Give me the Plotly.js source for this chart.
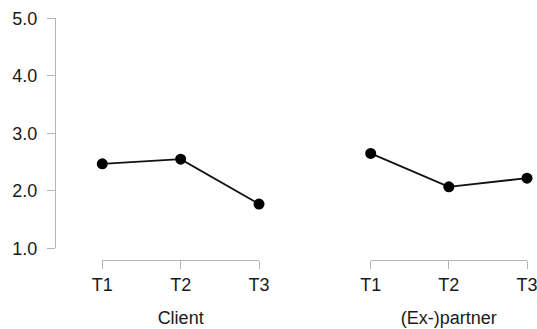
<!DOCTYPE html>
<html>
<head>
<meta charset="utf-8">
<script src="https://cdn.plot.ly/plotly-3.0.1.min.js"></script>
<style>html,body{margin:0;padding:0;background:#fff;}#chart{width:537px;height:329px;}</style>
</head>
<body>
<div id="chart"></div>
<script>
var timePoints = [1, 2, 3];
var timeLabels = ["T1", "T2", "T3"];
var clientValues = [2.47, 2.55, 1.77];
var partnerValues = [2.65, 2.07, 2.22];
var yTickVals = [1, 2, 3, 4, 5];
var yTickText = ["1.0", "2.0", "3.0", "4.0", "5.0"];
var groupNames = ["Client", "(Ex-)partner"];

var W = 537, H = 329;
var fontFam = "Liberation Sans, Arial, Helvetica, sans-serif";
var axisGray = "#b5b5b5";
var textCol = "#1a1a1a";

function trace(vals, xa) {
  return {
    x: timePoints, y: vals, xaxis: xa, yaxis: "y",
    type: "scatter", mode: "lines+markers",
    line: {color: "#111111", width: 1.8},
    marker: {color: "#000000", size: 11},
    cliponaxis: false, hoverinfo: "skip", showlegend: false
  };
}

function xAxis(d0, d1, title) {
  return {
    domain: [d0 / W, d1 / W], range: [1, 3], anchor: "free", position: 1 - 260 / H,
    tickmode: "array", tickvals: timePoints, ticktext: timeLabels,
    showgrid: false, zeroline: false, showline: true, linecolor: axisGray, linewidth: 1,
    ticks: "outside", ticklen: 8, tickcolor: axisGray, tickwidth: 1,
    ticklabelstandoff: 0, ticklabeloverflow: "allow",
    tickfont: {family: fontFam, size: 18, color: textCol},
    title: {text: title, font: {family: fontFam, size: 18, color: textCol}, standoff: 17},
    fixedrange: true
  };
}

var layout = {
  width: W, height: H,
  margin: {l: 0, r: 0, t: 0, b: 0, pad: 0},
  paper_bgcolor: "#ffffff", plot_bgcolor: "#ffffff",
  xaxis: xAxis(102.3, 259, groupNames[0]),
  xaxis2: xAxis(370.7, 527, groupNames[1]),
  yaxis: {
    domain: [1 - 248.3 / H, 1 - 18.3 / H], range: [1, 5], anchor: "free", position: 55 / W,
    tickmode: "array", tickvals: yTickVals, ticktext: yTickText,
    showgrid: false, zeroline: false, showline: true, linecolor: axisGray, linewidth: 1,
    ticks: "outside", ticklen: 8, tickcolor: axisGray, tickwidth: 1,
    ticklabelstandoff: 6, ticklabeloverflow: "allow",
    tickfont: {family: fontFam, size: 18, color: textCol},
    fixedrange: true
  }
};

Plotly.newPlot("chart", [trace(clientValues, "x"), trace(partnerValues, "x2")], layout, {displayModeBar: false, staticPlot: true});
</script>
</body>
</html>
